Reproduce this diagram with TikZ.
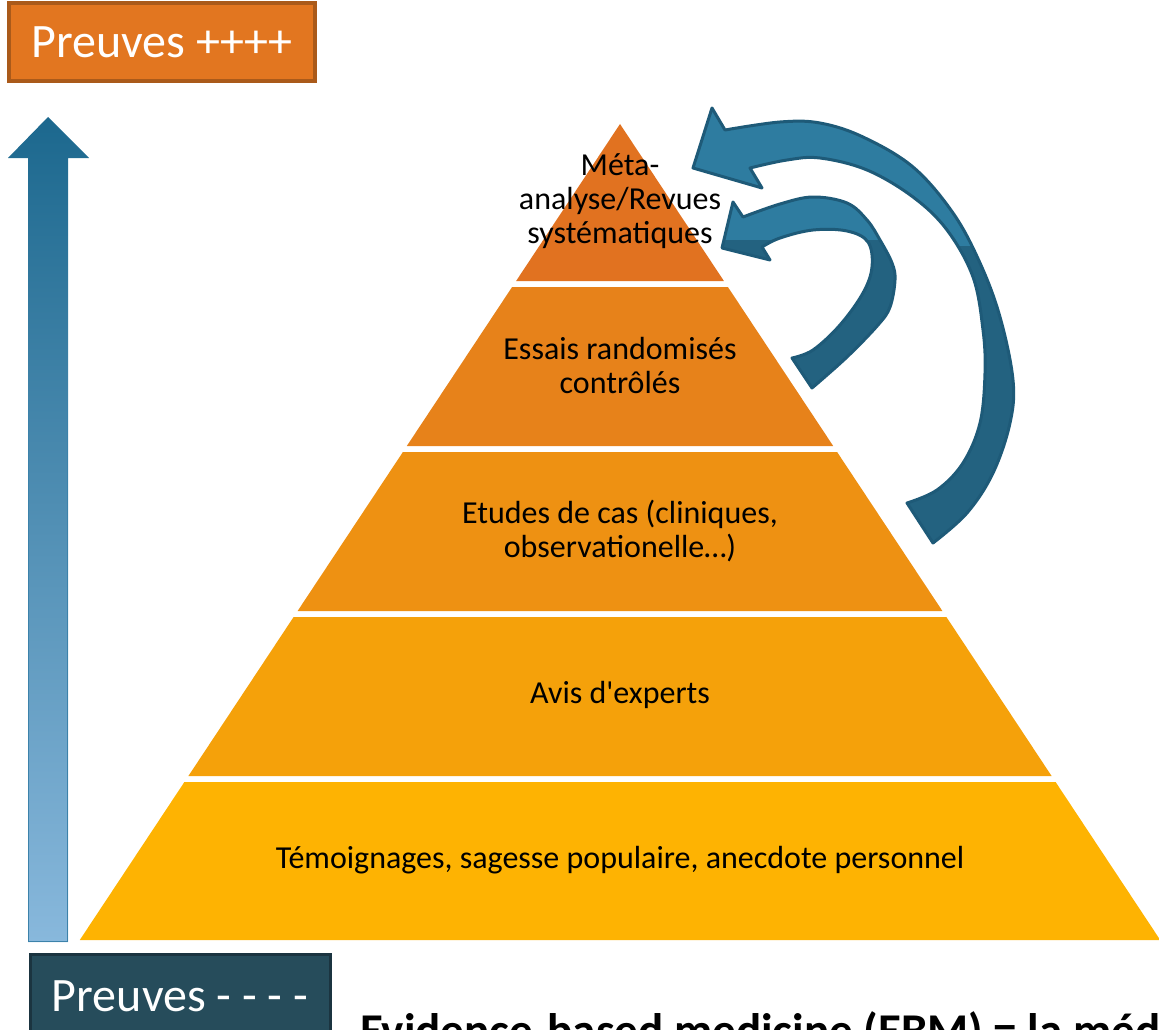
\documentclass[tikz,border=0pt]{standalone}
\usepackage{fontspec}
\setmainfont{Carlito}
\definecolor{lone}{RGB}{225,114,32}
\definecolor{ltwo}{RGB}{231,130,26}
\definecolor{lthree}{RGB}{238,145,18}
\definecolor{lfour}{RGB}{245,161,10}
\definecolor{lfive}{RGB}{254,179,2}
\definecolor{boxor}{RGB}{226,118,32}
\definecolor{boxorline}{RGB}{170,90,26}
\definecolor{boxbl}{RGB}{38,76,91}
\definecolor{boxblline}{RGB}{27,52,64}
\definecolor{arrtop}{RGB}{28,104,142}
\definecolor{arrbot}{RGB}{136,184,220}
\definecolor{arrline}{RGB}{60,130,170}
\definecolor{clight}{RGB}{46,124,160}
\definecolor{cdark}{RGB}{35,98,128}
\definecolor{cline}{RGB}{30,90,120}
\begin{document}
\begin{tikzpicture}[x=1pt,y=-1pt,
  laytext/.style={font=\fontsize{32}{34}\selectfont, align=center, text=black, inner sep=0pt},
  boxtext/.style={font=\fontsize{48}{50}\selectfont, text=white, inner sep=0pt},
  curvborder/.style={draw=cline, line width=3pt, line join=round}]
\useasboundingbox (0,0) rectangle (1159,1030);
\clip (0,0) rectangle (1159,1030);

% pyramid layers
\fill[lone]   (620,124) -- (723.9,281) -- (516.1,281) -- cycle;
\fill[ltwo]   (512.1,287) -- (727.9,287) -- (833.2,446) -- (406.8,446) -- cycle;
\fill[lthree] (402.9,452) -- (837.1,452) -- (942.4,611) -- (297.6,611) -- cycle;
\fill[lfour]  (293.6,617) -- (946.4,617) -- (1051.6,776) -- (188.4,776) -- cycle;
\fill[lfive]  (184.4,782) -- (1055.6,782) -- (1160.2,940) -- (79.8,940) -- cycle;

\node[laytext] (meta) at (620,201) {Méta-\\analyse/Revues\\systématiques};
\node[laytext] (essais) at (620,366) {Essais randomisés\\contrôlés};
\node[laytext] (etudes) at (620,531) {Etudes de cas (cliniques,\\observationelle…)};
\node[laytext] (avis) at (620,695) {Avis d\textquotesingle experts};
\node[laytext] (temo) at (620,860) {Témoignages, sagesse populaire, anecdote personnel};

% left vertical arrow
\shade[top color=arrtop, bottom color=arrbot]
  (28,942) -- (28,158) -- (8,158) -- (48,117) -- (89,158) -- (68,158) -- (68,942) -- cycle;
\draw[arrline, line width=1.5pt] (28.7,400) -- (28.7,941.3) -- (67.3,941.3) -- (67.3,400);

% curved arrows
\def\bigarrowpath{(693,168) -- (712,108) -- (725,130)
  -- plot[smooth, tension=0.6] coordinates {(725,130) (780,122) (820,123) (863,137) (913,167) (953,213) (980,263) (1000,317) (1013,380) (1010,423) (993,473) (967,513) (933,543)}
  -- (907,503)
  -- plot[smooth, tension=0.6] coordinates {(907,503) (937,490) (963,463) (980,423) (985,373) (983,330) (973,277) (947,230) (913,197) (867,170) (820,158) (787,160) (750,168)}
  -- (762,188) -- cycle}
\def\smallarrowpath{(722,248) -- (733,202) -- (743,217)
  -- plot[smooth, tension=0.6] coordinates {(743,217) (780,204) (813,197) (847,203) (867,220) (880,240) (892,263) (895,280) (890,307) (878,325) (847,357) (812,388)}
  -- (792,358)
  -- plot[smooth, tension=0.6] coordinates {(792,358) (813,350) (840,325) (863,293) (872,267) (868,242) (847,231) (813,230) (780,238) (762,247)}
  -- (770,260) -- cycle}

\fill[cdark] \bigarrowpath;
\begin{scope}
  \clip (600,0) rectangle (1100,245);
  \fill[clight] \bigarrowpath;
\end{scope}
\draw[curvborder] \bigarrowpath;

\fill[cdark] \smallarrowpath;
\begin{scope}
  \clip (600,0) rectangle (1100,239);
  \fill[clight] \smallarrowpath;
\end{scope}
\draw[curvborder] \smallarrowpath;

% boxes
\node[boxtext, draw=boxorline, fill=boxor, line width=4pt, minimum width=306pt, minimum height=78pt] (plus) at (162,42) {Preuves ++++};
\node[boxtext, draw=boxblline, fill=boxbl, line width=3pt, minimum width=300pt, minimum height=84pt] (minus) at (180,996) {Preuves - - - -};

% bottom title (cut)
\node[anchor=base west, inner sep=0pt, font=\bfseries\fontsize{47}{50}\selectfont] (ebm) at (360,1046) {Evidence-based medicine (EBM) = la médecine};
\end{tikzpicture}
\end{document}
